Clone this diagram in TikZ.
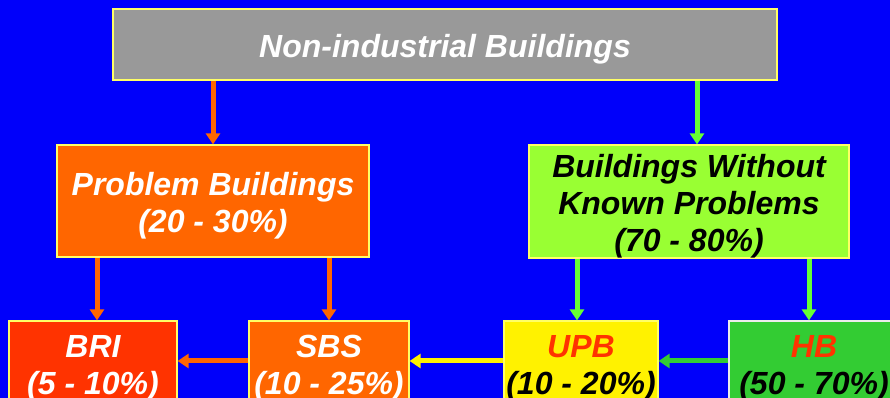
\documentclass[tikz,border=0pt]{standalone}
\usepackage{fontspec}
\setmainfont{Liberation Sans}
\usepackage{tikz}
\usetikzlibrary{arrows.meta}

\definecolor{bgtop}{HTML}{0000B0}
\definecolor{bgmid}{HTML}{0000FA}
\definecolor{bgbot}{HTML}{000098}
\definecolor{boxgray}{HTML}{999999}
\definecolor{boxorange}{HTML}{FF6600}
\definecolor{boxred}{HTML}{FF3300}
\definecolor{boxlime}{HTML}{99FF33}
\definecolor{boxgreen}{HTML}{33CC33}
\definecolor{arrlime}{HTML}{66FF33}
\definecolor{edgeyellow}{HTML}{FFFF66}

% slide background, dark at both edges
\pgfdeclareverticalshading{slidebg}{100bp}{color(0bp)=(bgbot); color(25bp)=(bgmid); color(80bp)=(bgmid); color(100bp)=(bgtop)}

% lowers the text a little inside its box
\newcommand{\topstrut}{\rule{0pt}{32pt}}

\begin{document}
\begin{tikzpicture}[x=1pt, y=1pt,
    every node/.style={font=\fontsize{32}{37}\selectfont\bfseries\itshape},
    catbox/.style={draw=edgeyellow, line width=1.2pt, rectangle, inner sep=0pt, align=center},
    flow/.style={line width=5pt, -{Triangle[width=14pt, length=11pt]}}]
  % background
  \clip (0,0) rectangle (890,398);
  \shade[shading=slidebg] (0,0) rectangle (890,398);

  % boxes
  \node[catbox, fill=boxgray, text=white, minimum width=664pt, minimum height=71pt] (nonind) at (445, 353.5) {\topstrut Non-industrial Buildings};
  \node[catbox, fill=boxorange, text=white, minimum width=312pt, minimum height=112pt] (probb) at (213, 197) {\topstrut Problem Buildings\\(20 - 30\%)};
  \node[catbox, fill=boxlime, text=black, minimum width=320pt, minimum height=113pt] (noprob) at (689, 196.5) {\topstrut Buildings Without\\Known Problems\\(70 - 80\%)};
  \node[catbox, fill=boxred, text=white, minimum width=168pt, minimum height=84pt] (bri) at (93, 35) {\topstrut BRI\\(5 - 10\%)};
  \node[catbox, fill=boxorange, text=white, minimum width=160pt, minimum height=84pt] (sbs) at (329, 35) {\topstrut SBS\\(10 - 25\%)};
  \node[catbox, fill=yellow, text=black, minimum width=154pt, minimum height=84pt] (upb) at (581, 35) {\topstrut\textcolor{boxred}{UPB}\\(10 - 20\%)};
  \node[catbox, draw=white!85!gray, fill=boxgreen, text=black, minimum width=170pt, minimum height=84pt] (hb) at (814, 35) {\topstrut\textcolor{boxred}{HB}\\(50 - 70\%)};

  % arrows
  \draw[flow, boxorange] (nonind.south -| probb.north) -- (probb.north);
  \draw[flow, arrlime] ([xshift=8pt]nonind.south -| noprob.north) -- ([xshift=8pt]noprob.north);
  \draw[flow, boxorange] ([xshift=4pt]probb.south -| bri.north) -- ([xshift=4pt]bri.north);
  \draw[flow, boxorange] (probb.south -| sbs.north) -- (sbs.north);
  \draw[flow, arrlime] ([xshift=-4pt]noprob.south -| upb.north) -- ([xshift=-4pt]upb.north);
  \draw[flow, arrlime] ([xshift=-5pt]noprob.south -| hb.north) -- ([xshift=-5pt]hb.north);
  \draw[flow, boxorange] ([yshift=2pt]sbs.west) -- ([yshift=2pt]bri.east);
  \draw[flow, yellow] ([yshift=2pt]upb.west) -- ([yshift=2pt]sbs.east);
  \draw[flow, boxgreen] ([yshift=2pt]hb.west) -- ([yshift=2pt]upb.east);
\end{tikzpicture}
\end{document}
